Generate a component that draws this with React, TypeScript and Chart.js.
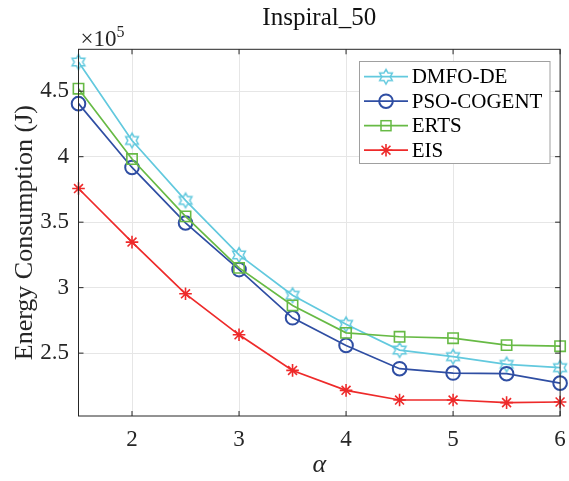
import React, { useEffect, useRef } from "react";
import { Chart, registerables } from "chart.js";

Chart.register(...registerables);

// ---- data ----
const alpha = [1.5, 2, 2.5, 3, 3.5, 4, 4.5, 5, 5.5, 6];
const dmfoDe = [472300, 412400, 366600, 325000, 294200, 272000, 252300, 247300, 241400, 238900];
const psoCogent = [440500, 391800, 349400, 313800, 277000, 255900, 238100, 234800, 234300, 227100];
const erts = [451900, 398200, 354400, 315100, 286400, 265500, 262500, 261400, 256100, 255300];
const eis = [375700, 334800, 295300, 264000, 236800, 221600, 214200, 214200, 212200, 212700];

const seriesNames = ["DMFO-DE", "PSO-COGENT", "ERTS", "EIS"];
const seriesColors = ["#62c9de", "#2f4ea3", "#67ba45", "#ee2a2a"];
const xTicks = [2, 3, 4, 5, 6];
const yTicks = [250000, 300000, 350000, 400000, 450000];
const xRange = [1.5, 6];
const yRange = [202000, 482000];

const titleText = "Inspiral_50";
const yLabel = "Energy Consumption (J)";
const xLabel = "\u03B1";

const SERIF = "'Liberation Serif', 'Times New Roman', serif";
const AXIS_COLOR = "#262626";

function makeHexagram(color: string, R: number, lw: number): HTMLCanvasElement {
  const size = 2 * Math.ceil(R + lw + 1);
  const c = document.createElement("canvas");
  c.width = size;
  c.height = size;
  const ctx = c.getContext("2d")!;
  const cx = size / 2;
  const cy = size / 2;
  ctx.beginPath();
  for (let i = 0; i < 12; i++) {
    const ang = -Math.PI / 2 + (i * Math.PI) / 6;
    const r = i % 2 === 0 ? R : R / Math.sqrt(3);
    const px = cx + r * Math.cos(ang);
    const py = cy + r * Math.sin(ang);
    if (i === 0) ctx.moveTo(px, py);
    else ctx.lineTo(px, py);
  }
  ctx.closePath();
  ctx.strokeStyle = color;
  ctx.lineWidth = lw;
  ctx.stroke();
  return c;
}

function drawMarker(ctx: CanvasRenderingContext2D, idx: number, x: number, y: number, hex: HTMLCanvasElement) {
  const color = seriesColors[idx];
  ctx.save();
  ctx.strokeStyle = color;
  if (idx === 0) {
    ctx.drawImage(hex, x - hex.width / 2, y - hex.height / 2);
  } else if (idx === 1) {
    ctx.lineWidth = 2;
    ctx.beginPath();
    ctx.arc(x, y, 6.8, 0, Math.PI * 2);
    ctx.stroke();
  } else if (idx === 2) {
    ctx.lineWidth = 1.5;
    ctx.strokeRect(x - 5, y - 5, 10, 10);
  } else {
    ctx.lineWidth = 1.6;
    const r = 6.3;
    ctx.beginPath();
    ctx.moveTo(x - r, y); ctx.lineTo(x + r, y);
    ctx.moveTo(x, y - r); ctx.lineTo(x, y + r);
    const d = r * Math.SQRT1_2;
    ctx.moveTo(x - d, y - d); ctx.lineTo(x + d, y + d);
    ctx.moveTo(x - d, y + d); ctx.lineTo(x + d, y - d);
    ctx.stroke();
  }
  ctx.restore();
}

export default function App() {
  const ref = useRef<HTMLCanvasElement>(null);

  useEffect(() => {
    const hex = makeHexagram(seriesColors[0], 7.3, 1.5);
    const values = [dmfoDe, psoCogent, erts, eis];
    const styles: any[] = [hex, "circle", "rect", "star"];
    const radii = [7, 6.8, 7.3, 6.3];
    const pbw = [1.5, 2, 1.6, 1.6];

    const frame = {
      id: "matlabFrame",
      afterDatasetsDraw(chart: any) {
        const { ctx, chartArea } = chart;
        const { left, right, top, bottom } = chartArea;
        const xs = chart.scales.x;
        const ys = chart.scales.y;
        ctx.save();
        ctx.strokeStyle = AXIS_COLOR;
        ctx.lineWidth = 1;
        ctx.beginPath();
        const tl = 5;
        xTicks.forEach((v) => {
          const px = xs.getPixelForValue(v);
          ctx.moveTo(px, bottom); ctx.lineTo(px, bottom - tl);
          ctx.moveTo(px, top); ctx.lineTo(px, top + tl);
        });
        yTicks.forEach((v) => {
          const py = ys.getPixelForValue(v);
          ctx.moveTo(left, py); ctx.lineTo(left + tl, py);
          ctx.moveTo(right, py); ctx.lineTo(right - tl, py);
        });
        ctx.stroke();
        ctx.strokeRect(left, top, right - left, bottom - top);
        // exponent label
        ctx.fillStyle = AXIS_COLOR;
        ctx.textBaseline = "alphabetic";
        ctx.textAlign = "left";
        ctx.font = `23px ${SERIF}`;
        const base = "\u00D710";
        ctx.fillText(base, left + 2, top - 3);
        const w = ctx.measureText(base).width;
        ctx.font = `16px ${SERIF}`;
        ctx.fillText("5", left + 2 + w, top - 12);
        ctx.restore();
      },
    };

    const legend = {
      id: "matlabLegend",
      afterDraw(chart: any) {
        const { ctx } = chart;
        const bx = 359.5, by = 61.5, bw = 190.5, bh = 102;
        ctx.save();
        ctx.fillStyle = "#ffffff";
        ctx.fillRect(bx, by, bw, bh);
        ctx.strokeStyle = "#a0a0a0";
        ctx.lineWidth = 1;
        ctx.strokeRect(bx, by, bw, bh);
        ctx.font = `21px ${SERIF}`;
        ctx.textBaseline = "middle";
        ctx.textAlign = "left";
        seriesNames.forEach((name, i) => {
          const yy = 76.7 + 24.5 * i;
          ctx.strokeStyle = seriesColors[i];
          ctx.lineWidth = 1.7;
          ctx.beginPath();
          ctx.moveTo(364, yy);
          ctx.lineTo(408, yy);
          ctx.stroke();
          drawMarker(ctx, i, 386, yy, hex);
          ctx.fillStyle = "#000000";
          ctx.fillText(name, 411.7, yy + 1);
        });
        ctx.restore();
      },
    };

    const chart = new Chart(ref.current!, {
      type: "line",
      data: {
        datasets: seriesNames.map((name, i) => ({
          label: name,
          data: alpha.map((x, j) => ({ x, y: values[i][j] })),
          borderColor: seriesColors[i],
          borderWidth: 1.7,
          backgroundColor: "rgba(0,0,0,0)",
          pointStyle: styles[i],
          pointRadius: radii[i],
          pointBorderWidth: pbw[i],
          pointBorderColor: seriesColors[i],
          pointBackgroundColor: "rgba(0,0,0,0)",
          tension: 0,
          fill: false,
          clip: false as any,
          order: 4 - i,
        })),
      },
      options: {
        animation: false,
        responsive: false,
        events: [],
        layout: { padding: { left: 0, right: 7, top: 0, bottom: 0 } },
        plugins: {
          legend: { display: false },
          tooltip: { enabled: false },
          title: {
            display: true,
            text: titleText,
            fullSize: false,
            color: "#111111",
            font: { family: SERIF, size: 25, weight: "normal" },
            padding: { top: 3, bottom: 16.3 },
          },
        },
        scales: {
          x: {
            type: "linear",
            min: xRange[0],
            max: xRange[1],
            afterBuildTicks: (s: any) => {
              s.ticks = xTicks.map((v) => ({ value: v }));
            },
            afterFit: (s: any) => {
              s.height = 65;
              s.paddingLeft = 0;
              s.paddingRight = 0;
            },
            grid: { color: "#e6e6e6", lineWidth: 1, drawTicks: false },
            border: { display: false },
            ticks: {
              padding: 10.5,
              color: AXIS_COLOR,
              font: { family: SERIF, size: 23 },
              maxRotation: 0,
              autoSkip: false,
              callback: (v: any) => String(v),
            },
            title: {
              display: true,
              text: xLabel,
              color: AXIS_COLOR,
              font: { family: SERIF, size: 26, style: "italic", lineHeight: 1.0 },
              padding: { top: 0, bottom: 2.5 },
            },
          },
          y: {
            type: "linear",
            min: yRange[0],
            max: yRange[1],
            afterBuildTicks: (s: any) => {
              s.ticks = yTicks.map((v) => ({ value: v }));
            },
            afterFit: (s: any) => {
              s.width = 78.5;
              s.paddingTop = 0;
              s.paddingBottom = 0;
            },
            grid: { color: "#e6e6e6", lineWidth: 1, drawTicks: false },
            border: { display: false },
            ticks: {
              padding: 9.5,
              color: AXIS_COLOR,
              font: { family: SERIF, size: 23 },
              autoSkip: false,
              callback: (v: any) => String(Number(v) / 1e5),
            },
            title: {
              display: true,
              text: yLabel,
              color: AXIS_COLOR,
              font: { family: SERIF, size: 26 },
              padding: { top: 10, bottom: 0 },
            },
          },
        },
      },
      plugins: [frame, legend],
    } as any);

    return () => chart.destroy();
  }, []);

  return (
    <div style={{ position: "fixed", left: 0, top: 0, width: 569, height: 481, background: "#ffffff" }}>
      <canvas ref={ref} width={569} height={481} style={{ display: "block", width: 569, height: 481 }} />
    </div>
  );
}
